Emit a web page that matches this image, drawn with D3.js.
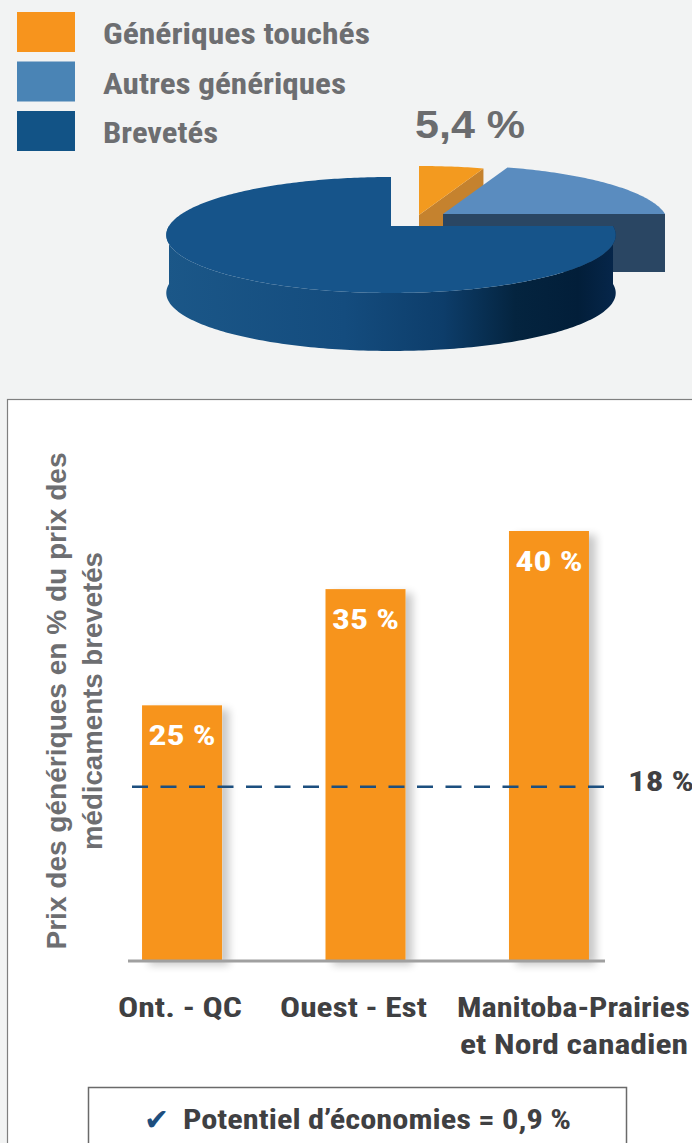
<!DOCTYPE html>
<html><head><meta charset="utf-8">
<script src="https://cdn.jsdelivr.net/npm/d3@7"></script>
<style>html,body{margin:0;padding:0;background:#f2f3f3;} svg{display:block}</style>
</head><body>
<svg id="c" width="692" height="1143"></svg>
<script>
// ---------- data ----------
const legendLabels = ["Génériques touchés", "Autres génériques", "Brevetés"];
const pieValues = [5.4, 19.6, 75];
const pieLabel = "5,4 %";
const categories = ["Ont. - QC", "Ouest - Est", "Manitoba-Prairies\net Nord canadien"];
const barValues = [25, 35, 40];
const barLabels = ["25 %", "35 %", "40 %"];
const refValue = 18;
const refLabel = "18 %";
const yTitleLines = ["Prix des génériques en % du prix des", "médicaments brevetés"];
const savingsText = "Potentiel d’économies =  0,9 %";

// ---------- styles ----------
const COND = "'Liberation Sans Narrow','Roboto Condensed','DejaVu Sans Condensed','Liberation Sans',Arial,sans-serif";
const SANS = "'Liberation Sans',Arial,sans-serif";
const pieTop = ["#f39a1f", "#5a8cbf", "#16548a"];
const pieWall = ["#c5822e", "#2a4663", "#0f416f"];
const explode = [{x: 28, y: -11}, {x: 52, y: -12}, {x: 0, y: 0}];

const svg = d3.select("#c");
const defs = svg.append("defs");

// background
svg.append("rect").attr("width", 692).attr("height", 1143).attr("fill", "#f2f3f3");

// ---------- legend ----------
const legendW = [267, 243, 115];
const legendSw = ["#f7941d", "#4a84b5", "#125386"];
const lg = svg.append("g");
legendLabels.forEach((l, i) => {
  const y0 = 12 + i * 49.5;
  lg.append("rect").attr("x", 17).attr("y", y0).attr("width", 58).attr("height", 40)
    .attr("fill", legendSw[i]);
  lg.append("text").attr("x", 103).attr("y", y0 + 32)
    .attr("font-family", COND).attr("font-weight", "bold").attr("font-size", 29)
    .attr("fill", "#6d6e71").attr("textLength", legendW[i]).attr("lengthAdjust", "spacingAndGlyphs")
    .text(l);
});

// ---------- 3D pie ----------
const pie = d3.pie().sort(null).value(d => d).startAngle(0).endAngle(2 * Math.PI);
const arcs = pie(pieValues);
const P = {cx: 391, cy: 226, R: 222, Ry: 56.6, p: 0.155, D: 58};
function proj(a, r, h, off) {
  const u = Math.sin(a) * r, v = Math.cos(a) * r;
  const s = 1 / (1 + P.p * v);
  return [P.cx + off.x + P.R * u * s, P.cy + off.y - P.Ry * v * s + h];
}
function arcPts(a0, a1, h, off) {
  const n = Math.max(2, Math.ceil(Math.abs(a1 - a0) / (Math.PI / 180)));
  const pts = [];
  for (let k = 0; k <= n; k++) pts.push(proj(a0 + (a1 - a0) * k / n, 1, h, off));
  return pts;
}
const grad = defs.append("linearGradient").attr("id", "sideG").attr("gradientUnits", "userSpaceOnUse")
  .attr("x1", 165).attr("x2", 614).attr("y1", 0).attr("y2", 0);
[[0, "#1b5788"], [0.4, "#144c7e"], [0.62, "#0d3d6a"], [0.78, "#04243f"], [0.92, "#021e39"], [1, "#06264a"]]
  .forEach(([o, c]) => grad.append("stop").attr("offset", o).attr("stop-color", c));

const line = d3.line();
const pg = svg.append("g");
arcs.forEach((d, i) => {
  const off = explode[i];
  const a0 = d.startAngle, a1 = d.endAngle;
  const lo = Math.max(a0, Math.PI / 2), hi = Math.min(a1, 3 * Math.PI / 2);
  if (hi > lo) {
    const pts = arcPts(lo, hi, 0, off).concat(arcPts(hi, lo, P.D, off));
    pg.append("path").attr("d", line(pts) + "Z").attr("fill", i === 2 ? "url(#sideG)" : pieWall[i]);
  }
  [[a0, a0 - Math.PI / 2], [a1, a1 + Math.PI / 2]].forEach(([a, th]) => {
    if (Math.cos(th) < -0.01) {
      const c0 = proj(0, 0, 0, off), o0 = proj(a, 1, 0, off), o1 = proj(a, 1, P.D, off), c1 = proj(0, 0, P.D, off);
      pg.append("path").attr("d", line([c0, o0, o1, c1]) + "Z").attr("fill", pieWall[i]);
    }
  });
  const top = [proj(0, 0, 0, off)].concat(arcPts(a0, a1, 0, off));
  pg.append("path").attr("d", line(top) + "Z").attr("fill", pieTop[i]);
});

svg.append("text").attr("x", 415).attr("y", 138)
  .attr("font-family", SANS).attr("font-weight", "bold").attr("font-size", 38)
  .attr("fill", "#6b6c6e").attr("textLength", 110).attr("lengthAdjust", "spacingAndGlyphs")
  .text(pieLabel);

// ---------- lower panel ----------
svg.append("rect").attr("x", 7.5).attr("y", 399.5).attr("width", 720).attr("height", 800)
  .attr("fill", "#ffffff").attr("stroke", "#7f7f7f").attr("stroke-width", 1.2);

const x = d3.scaleBand().domain(categories).range([87, 644]).paddingInner(0.564).paddingOuter(0.3);
const y = d3.scaleLinear().domain([3, 40]).range([961, 531]);
const base = y(y.domain()[0]);

const f = defs.append("filter").attr("id", "sh").attr("x", "-30%").attr("y", "-10%").attr("width", "170%").attr("height", "130%");
f.append("feGaussianBlur").attr("in", "SourceAlpha").attr("stdDeviation", 4).attr("result", "b");
f.append("feOffset").attr("in", "b").attr("dx", 7).attr("dy", 4).attr("result", "o");
f.append("feComponentTransfer").attr("in", "o").attr("result", "t")
  .append("feFuncA").attr("type", "linear").attr("slope", 0.22);
const fm = f.append("feMerge");
fm.append("feMergeNode").attr("in", "t");
fm.append("feMergeNode").attr("in", "SourceGraphic");

const bars = svg.append("g");
bars.selectAll("rect").data(barValues).join("rect")
  .attr("x", (d, i) => x(categories[i]))
  .attr("y", d => y(d))
  .attr("width", x.bandwidth())
  .attr("height", d => base - y(d))
  .attr("fill", "#f7941d")
  .attr("filter", "url(#sh)");

bars.selectAll("text").data(barValues).join("text")
  .attr("x", (d, i) => x(categories[i]) + x.bandwidth() / 2)
  .attr("y", d => y(d) + 40)
  .attr("text-anchor", "middle")
  .attr("font-family", COND).attr("font-weight", "bold").attr("font-size", 28)
  .attr("fill", "#ffffff").attr("textLength", 67).attr("lengthAdjust", "spacingAndGlyphs")
  .text((d, i) => barLabels[i]);

// baseline
svg.append("line").attr("x1", 128).attr("x2", 605).attr("y1", base).attr("y2", base)
  .attr("stroke", "#a0a0a0").attr("stroke-width", 3);

// reference line
svg.append("line").attr("x1", 132).attr("x2", 606).attr("y1", y(refValue)).attr("y2", y(refValue))
  .attr("stroke", "#1c4f7f").attr("stroke-width", 2.6).attr("stroke-dasharray", "16 12.5");
svg.append("text").attr("x", 628).attr("y", y(refValue) + 4)
  .attr("font-family", COND).attr("font-weight", "bold").attr("font-size", 28)
  .attr("fill", "#404042").attr("textLength", 66).attr("lengthAdjust", "spacingAndGlyphs")
  .text(refLabel);

// category labels
const catW = [[124], [147], [233, 228]];
categories.forEach((c, i) => {
  const lines = c.split("\n");
  const last = i === categories.length - 1;
  const cxm = x(c) + x.bandwidth() / 2 + (i === 0 ? -2 : -12);
  lines.forEach((t, j) => {
    svg.append("text")
      .attr("x", last ? 690 - j * 2 : cxm)
      .attr("y", 1017 + j * 37)
      .attr("text-anchor", last ? "end" : "middle")
      .attr("font-family", COND).attr("font-weight", "bold").attr("font-size", 28)
      .attr("fill", "#3f4042").attr("textLength", catW[i][j]).attr("lengthAdjust", "spacingAndGlyphs")
      .text(t);
  });
});

// y title
const yTitleW = [497, 298];
yTitleLines.forEach((t, j) => {
  svg.append("text")
    .attr("transform", `translate(${66 + j * 36},701) rotate(-90)`)
    .attr("text-anchor", "middle")
    .attr("font-family", SANS).attr("font-weight", "bold").attr("font-size", 28)
    .attr("fill", "#6d6e71").attr("textLength", yTitleW[j]).attr("lengthAdjust", "spacingAndGlyphs")
    .text(t);
});

// savings box
svg.append("rect").attr("x", 88.5).attr("y", 1087.5).attr("width", 538).attr("height", 100)
  .attr("fill", "#ffffff").attr("stroke", "#6a6a6a").attr("stroke-width", 1.5);
svg.append("text").attr("x", 144).attr("y", 1130)
  .attr("font-family", "'DejaVu Sans',sans-serif").attr("font-weight", "bold").attr("font-size", 30).attr("fill", "#1d4e7e")
  .text("✔");
svg.append("text").attr("x", 183).attr("y", 1129)
  .attr("font-family", COND).attr("font-weight", "bold").attr("font-size", 27)
  .attr("fill", "#3f4042").attr("textLength", 388).attr("lengthAdjust", "spacingAndGlyphs")
  .text(savingsText);
</script>
</body></html>
